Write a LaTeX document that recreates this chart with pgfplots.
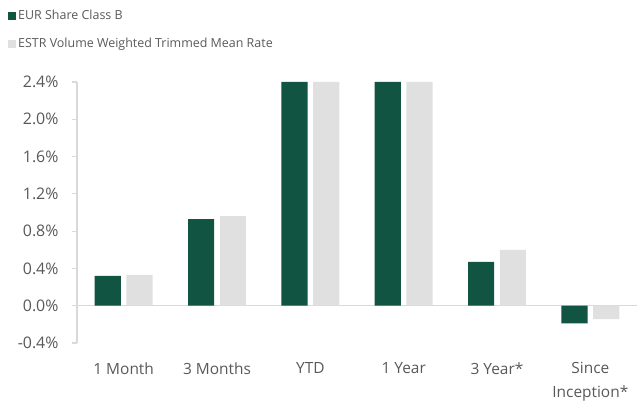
\documentclass[border=0pt]{standalone}
\usepackage{pgfplots}
\pgfplotsset{compat=1.18}
\usepackage{fontspec}
\setmainfont{Open Sans}
\definecolor{dkgreen}{HTML}{115441}
\definecolor{ltgrey}{HTML}{E0E0E0}
\definecolor{txt}{HTML}{595959}
\definecolor{axln}{HTML}{D9D9D9}
\begin{document}
\begin{tikzpicture}
\begin{axis}[
  name=ax,
  scale only axis, width=560bp, height=261bp,
  ymin=-0.4, ymax=2.4,
  ytick={-0.4,0,0.4,0.8,1.2,1.6,2.0,2.4},
  yticklabel={\pgfmathprintnumber[fixed,fixed zerofill,precision=1]{\tick}\%},
  /pgf/number format/assume math mode=true,
  xmin=-0.5, xmax=5.5, xtick={0,1,2,3,4,5},
  xticklabels={1 Month, 3 Months, YTD, 1 Year, 3 Year*, {Since\\Inception*}},
  xticklabel style={align=center, font=\fontsize{15.5}{24}\selectfont, text=txt, yshift=-11bp},
  yticklabel style={font=\fontsize{16}{17}\selectfont, text=txt, xshift=-10bp},
  axis y line*=left, axis x line*=bottom,
  x axis line style={draw=none, -}, y axis line style={draw=axln, line width=1.2pt, -},
  xtick style={draw=none},
  ytick style={draw=axln, line width=1.2pt},
  tick align=outside, major tick length=5bp,
  extra y ticks={0}, extra y tick labels={},
  extra y tick style={grid=major, major grid style={draw=axln, line width=1.5pt}, tick style={draw=none}},
  clip=true,
  legend style={at={(-0.1232,1.2835)}, anchor=north west, draw=none, fill=none,
    font=\fontsize{12.5}{14}\selectfont, text=txt, row sep=13bp, inner sep=0pt},
  legend cell align=left,
]
\addplot[ybar, bar width=0.28, bar shift=-0.17, fill=dkgreen, draw=none,
  legend image code/.code={\fill[dkgreen] (0bp,-4bp) rectangle (8bp,4bp);}]
  coordinates {(0,0.32) (1,0.93) (2,2.4) (3,2.4) (4,0.47) (5,-0.19)};
\addlegendentry{EUR Share Class B}
\addplot[ybar, bar width=0.28, bar shift=0.17, fill=ltgrey, draw=none,
  legend image code/.code={\fill[ltgrey] (0bp,-4bp) rectangle (8bp,4bp);}]
  coordinates {(0,0.33) (1,0.96) (2,2.4) (3,2.4) (4,0.60) (5,-0.145)};
\addlegendentry{ESTR Volume Weighted Trimmed Mean Rate}
\end{axis}
\pgfresetboundingbox
\useasboundingbox ([shift={(-77bp,-61bp)}]ax.south west) rectangle ([shift={(0bp,82bp)}]ax.north east);
\end{tikzpicture}
\end{document}
